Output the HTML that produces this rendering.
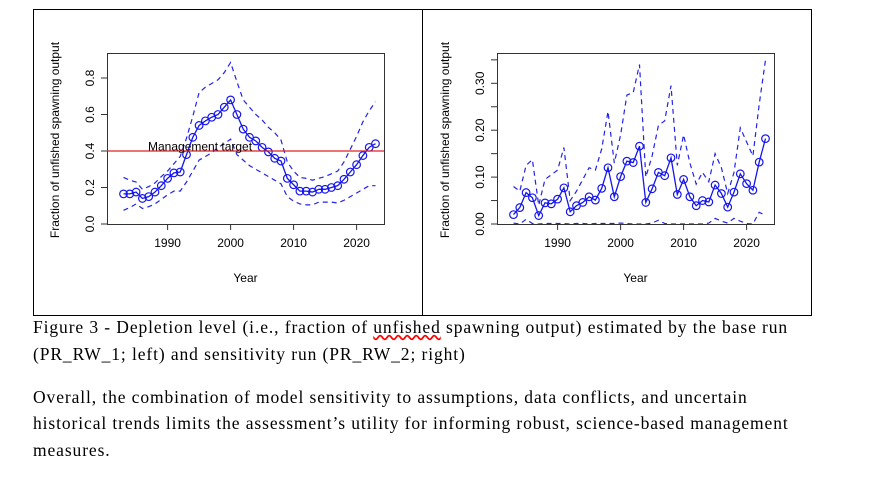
<!DOCTYPE html>
<html><head><meta charset="utf-8"><style>
body{margin:0;background:#fff;width:892px;height:483px;overflow:hidden;position:relative}
.t{position:absolute;left:33px;font-family:"Liberation Serif",serif;font-size:17.5px;letter-spacing:0.9px;color:#000;white-space:nowrap}
svg text{font-family:"Liberation Sans",sans-serif;font-size:12px;fill:#000}
</style></head><body>
<svg id="svg" width="892" height="320" style="position:absolute;left:0;top:0">
<rect x="33.5" y="9.5" width="778" height="306" fill="none" stroke="#000" stroke-width="1"/>
<line x1="422.5" y1="9.5" x2="422.5" y2="315.5" stroke="#000"/>
</svg>
<div class="t" style="top:317px">Figure 3 - Depletion level (i.e., fraction of <span style="text-decoration:underline wavy red">unfished</span> spawning output) estimated by the base run</div>
<div class="t" style="top:344px">(PR_RW_1; left) and sensitivity run (PR_RW_2; right)</div>
<div class="t" style="top:387px">Overall, the combination of model sensitivity to assumptions, data conflicts, and uncertain</div>
<div class="t" style="top:413px">historical trends limits the assessment’s utility for informing robust, science-based management</div>
<div class="t" style="top:440px">measures.</div>
<script>
const years=[];for(let y=1983;y<=2023;y++)years.push(y);
const leftMid=[.165,.165,.175,.14,.15,.175,.21,.25,.28,.285,.38,.475,.54,.565,.585,.60,.64,.68,.60,.52,.475,.455,.42,.395,.36,.345,.25,.215,.18,.18,.175,.19,.19,.20,.21,.245,.285,.325,.375,.42,.44];
const leftUp=[.255,.24,.23,.19,.205,.225,.26,.29,.33,.37,.47,.59,.72,.75,.77,.79,.83,.885,.78,.68,.64,.60,.57,.53,.50,.46,.34,.29,.255,.25,.24,.25,.26,.275,.29,.34,.41,.48,.56,.62,.67];
const leftLo=[.075,.09,.11,.085,.095,.11,.135,.16,.18,.18,.23,.29,.35,.37,.39,.42,.44,.465,.38,.35,.32,.30,.28,.26,.24,.22,.15,.125,.11,.105,.105,.12,.12,.12,.115,.13,.15,.17,.19,.21,.21];
const rightMid=[.02,.035,.067,.056,.018,.045,.043,.053,.077,.026,.039,.046,.058,.051,.076,.12,.058,.101,.134,.131,.166,.046,.075,.11,.103,.141,.063,.095,.058,.039,.05,.047,.083,.065,.036,.068,.107,.086,.072,.132,.182];
const rightUp=[.08,.07,.125,.137,.04,.095,.105,.115,.163,.05,.07,.095,.12,.115,.16,.24,.13,.19,.275,.28,.34,.1,.145,.21,.22,.295,.125,.19,.13,.085,.11,.09,.15,.12,.065,.11,.205,.175,.145,.255,.35];
const rightLo=[.002,0,.01,.001,0,.001,.001,.001,.001,0,.001,.001,0,.001,.001,.001,.001,.002,.001,0,0,0,.002,.008,.001,0,0,0,0,0,0,.002,.012,.006,.002,.012,.006,.001,0,.025,.018];
const xTicks=[1990,2000,2010,2020];
const leftYTicks=[0,0.2,0.4,0.6,0.8];
const rightYTicks=[0,0.1,0.2,0.3];
const rightYMinor=[0.05,0.15,0.25,0.35];
const target=0.4;
const NS="http://www.w3.org/2000/svg";
const svg=document.getElementById('svg');
function mk(t,a,p){const e=document.createElementNS(NS,t);for(const k in a)e.setAttribute(k,a[k]);(p||svg).appendChild(e);return e;}
function panel(ox,yScaleK,yTicks,fmt,mid,up,lo,pre){
  const L=107+ox,R=384+ox,T=53,B=224;
  const xs=y=>L+16.5+(y-1983)*6.3;
  const ys=v=>B-v*yScaleK;
  const g=mk('g',{});
  
  
  const cp=mk('clipPath',{id:'c'+ox},g);mk('rect',{x:L,y:T,width:R-L,height:B-T},cp);
  const box=mk('rect',{x:L+.5,y:T+.5,width:R-L,height:B-T,fill:'none',stroke:'#333'},g);
  
  
  xTicks.forEach(v=>{const x=xs(v);mk('line',{x1:x,y1:B,x2:x,y2:B+6,stroke:'#333'},g);
    const t=mk('text',{x:x,y:B+23,'text-anchor':'middle'},g);t.textContent=v;
    
    });
  yTicks.forEach(v=>{const y=ys(v);mk('line',{x1:L,y1:y,x2:L-6,y2:y,stroke:'#333'},g);
    const t=mk('text',{x:L-13,y:y,'text-anchor':'middle',transform:`rotate(-90 ${L-13} ${y})`},g);t.textContent=fmt(v);
    
    });
  const xl=mk('text',{x:(L+R)/2,y:282,'text-anchor':'middle'},g);xl.textContent='Year';
  
  
  const yx=ox+59,yy=140;
  const yl=mk('text',{x:yx,y:yy,'text-anchor':'middle',transform:`rotate(-90 ${yx} ${yy})`},g);yl.textContent='Fraction of unfished spawning output';
  
  
  const cg=mk('g',{'clip-path':`url(#c${ox})`},g);
  const pts=a=>a.map((v,i)=>xs(years[i])+','+ys(v)).join(' ');
  const u=mk('polyline',{points:pts(up),fill:'none',stroke:'#2222ee','stroke-width':1.2,'stroke-dasharray':'5,4'},cg);
  
  
  const l=mk('polyline',{points:pts(lo),fill:'none',stroke:'#2222ee','stroke-width':1.2,'stroke-dasharray':'5,4'},cg);
  
  
  const m=mk('polyline',{points:pts(mid),fill:'none',stroke:'#1515ee','stroke-width':1.3},cg);
  
  
  mid.forEach((v,i)=>{const c=mk('circle',{cx:xs(years[i]),cy:ys(v),r:3.8,fill:'none',stroke:'#1515ee','stroke-width':1.2},cg);
    
    });
  return {g,ys,L,R};
}
const p1=panel(0,182.5,leftYTicks,v=>v.toFixed(1),leftMid,leftUp,leftLo,'left');
const rl=mk('line',{x1:p1.L,y1:p1.ys(target),x2:p1.R,y2:p1.ys(target),stroke:'#e02020','stroke-width':1.2},p1.g);


const rt=mk('text',{x:148,y:p1.ys(target)-0.5},p1.g);rt.textContent='Management target';


const p2=panel(390,469,rightYTicks,v=>v.toFixed(2),rightMid,rightUp,rightLo,'right');
rightYMinor.forEach(v=>{mk('line',{x1:p2.L,y1:p2.ys(v),x2:p2.L-6,y2:p2.ys(v),stroke:'#333'},p2.g);});
</script>
</body></html>
